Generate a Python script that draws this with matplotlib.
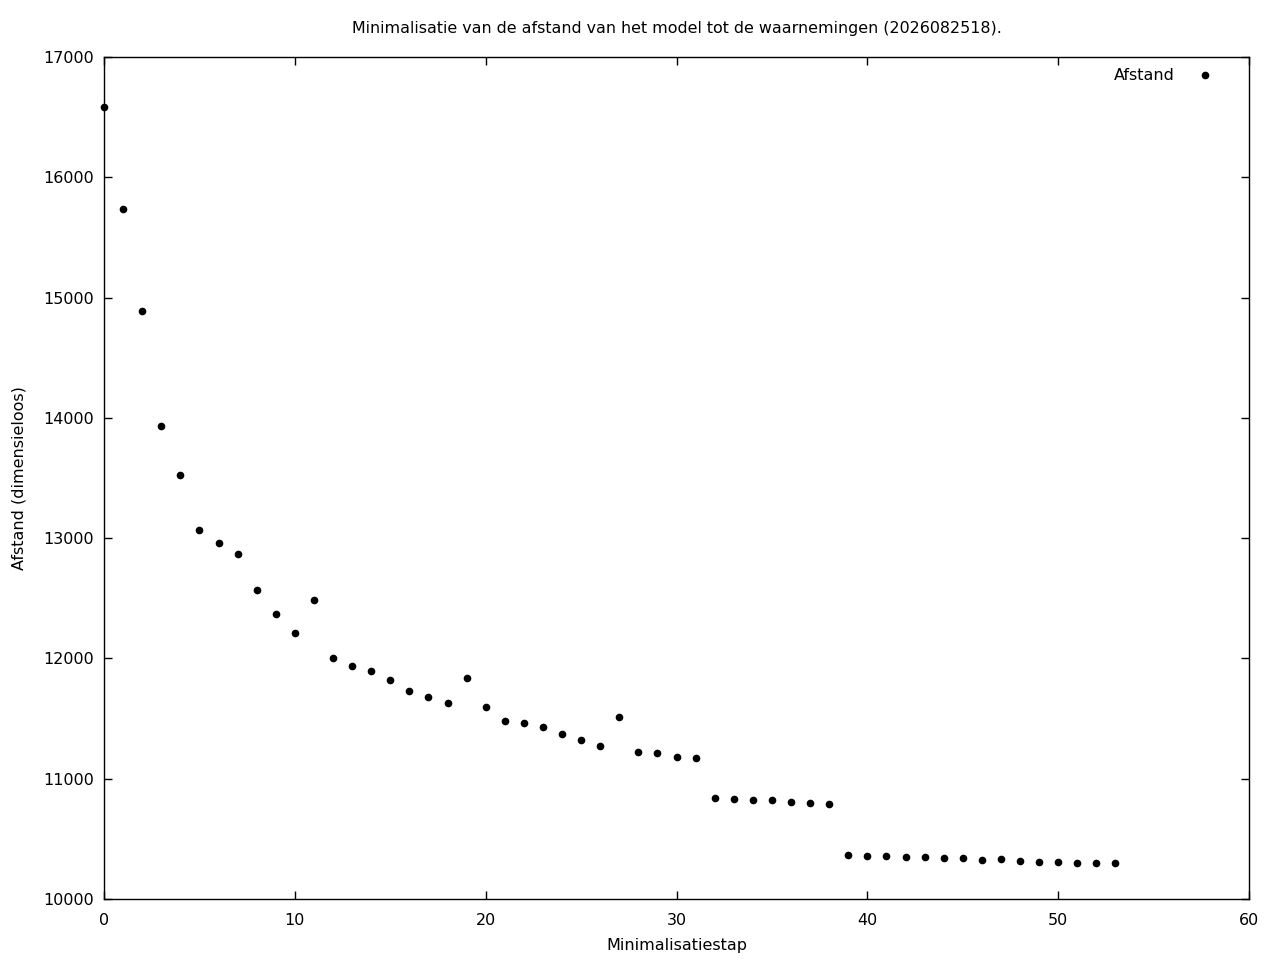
import matplotlib
matplotlib.use('Agg')
import matplotlib.pyplot as plt
import numpy as np

# gegevens
stap = list(range(54))
afstand = [16584, 15736, 14888, 13932, 13525, 13068, 12960, 12868, 12569, 12370,
           12212, 12486, 12004, 11937, 11896, 11821, 11729, 11680, 11630, 11837,
           11596, 11480, 11463, 11430, 11372, 11322, 11272, 11513, 11222, 11214,
           11181, 11172, 10840, 10832, 10824, 10824, 10807, 10799, 10790, 10366,
           10358, 10358, 10350, 10350, 10341, 10341, 10325, 10333, 10316, 10308,
           10308, 10300, 10300, 10300]
xticks = [0, 10, 20, 30, 40, 50, 60]
yticks = [10000, 11000, 12000, 13000, 14000, 15000, 16000, 17000]

plt.rcParams['font.family'] = ['DejaVu Sans']

fig = plt.figure(figsize=(12.8, 9.6), dpi=100)
ax = fig.add_axes([104 / 1280, 1 - 899 / 960, (1249 - 104) / 1280, (899 - 57) / 960])

ax.plot(stap, afstand, 'o', color='black', markersize=4.5, label='Afstand', clip_on=False)

ax.set_xlim(0, 60)
ax.set_ylim(10000, 17000)
ax.set_xticks(xticks)
ax.set_yticks(yticks)
ax.tick_params(direction='in', length=6, width=1, labelsize=11.5, top=True, right=True,
               labeltop=False, labelright=False)
ax.tick_params(axis='x', pad=10)
ax.tick_params(axis='y', pad=7)
for s in ax.spines.values():
    s.set_linewidth(1)

ax.set_xlabel('Minimalisatiestap', fontsize=11.5, labelpad=7)
ax.set_ylabel('Afstand (dimensieloos)', fontsize=11.5, labelpad=12)
ax.set_title('Minimalisatie van de afstand van het model tot de waarnemingen (2026082518).',
             fontsize=11.4, pad=17)

leg = ax.legend(loc='upper right', frameon=False, markerfirst=False, fontsize=11.5,
                handletextpad=0.9, borderaxespad=0.3, bbox_to_anchor=(0.985, 1.0))
for t in leg.get_texts():
    t.set_ha('right')

fig.savefig('out.png', dpi=100)
